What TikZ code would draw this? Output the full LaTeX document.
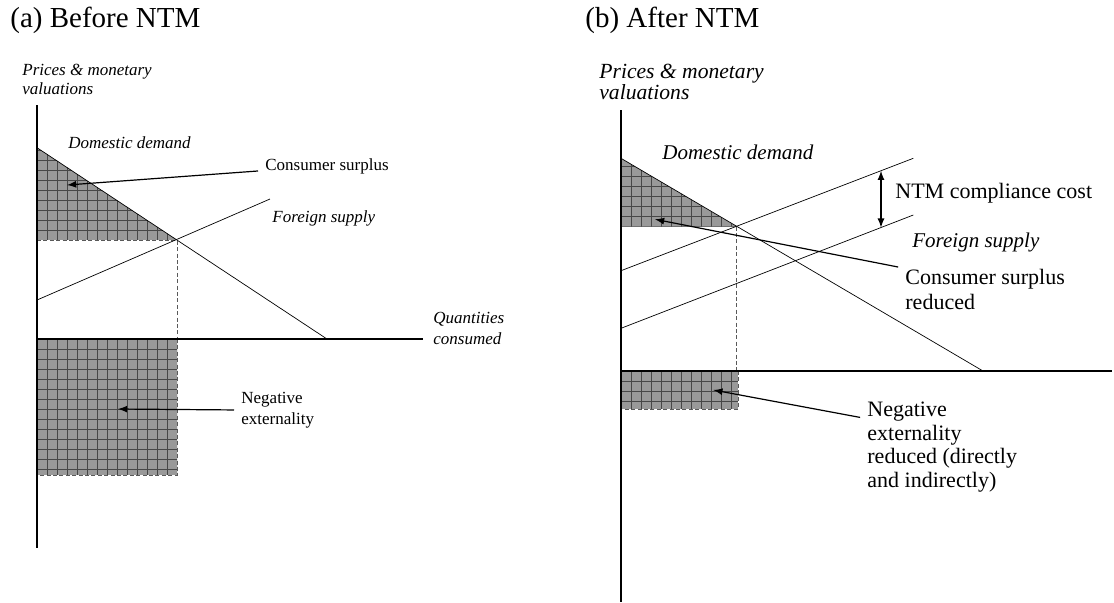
\documentclass[tikz,border=0pt]{standalone}
\usepackage{fontspec}
\setmainfont{Liberation Serif}
\usepackage{tikz}
\usetikzlibrary{positioning,arrows,calc}
\usepackage{xcolor}
\definecolor{hatchgray}{rgb}{0.6,0.6,0.6}
\definecolor{hatchdark}{rgb}{0.28,0.28,0.28}
\colorlet{guidegray}{black!65}
\tikzstyle{axisline} = [line width=0.65pt]
\tikzstyle{fnline} = [line width=0.35pt]
\tikzstyle{guide} = [draw=guidegray, line width=0.45pt, dash pattern=on 2pt off 1.2pt]
\tikzstyle{pointer} = [-latex, line width=0.6pt, shorten <=3.5pt]
\tikzstyle{gridline} = [draw=hatchdark, line width=0.35pt]
\tikzstyle{ttl} = [inner sep=0pt, anchor=base west, font=\fontsize{14.5}{17}\selectfont]
\tikzstyle{txta} = [inner sep=0pt, align=left, font=\fontsize{8.5}{10.5}\selectfont]
\tikzstyle{ita} = [inner sep=0pt, align=left, font=\fontsize{8.5}{10.5}\selectfont\itshape]
\tikzstyle{txtb} = [inner sep=0pt, align=left, font=\fontsize{11}{12.5}\selectfont]
\tikzstyle{itb} = [inner sep=0pt, align=left, font=\fontsize{10.5}{10.5}\selectfont\itshape]

\begin{document}
\begin{tikzpicture}[x=0.5pt, y=-0.5pt]
\useasboundingbox (0,0) rectangle (1114,602);

% (a) before
\node (tta) [ttl] at (10,27) {(a) Before NTM};
\node (pva) [ita, anchor=west, font=\fontsize{8.5}{9.5}\selectfont\itshape] at (22,79) {Prices \& monetary\\valuations};

\begin{scope}
\clip (37,147.7) -- (177,240) -- (37,240) -- cycle;
\fill[hatchgray] (37,140) rectangle (180,240);
\foreach \x in {47,57,...,177} \draw[gridline] (\x,140) -- (\x,240);
\foreach \y in {150,160,...,230} \draw[gridline] (37,\y) -- (180,\y);
\end{scope}
\begin{scope}
\clip (37,339) rectangle (177,475);
\fill[hatchgray] (37,339) rectangle (177,475);
\foreach \x in {47,57,...,177} \draw[gridline] (\x,339) -- (\x,475);
\foreach \y in {349,359,...,475} \draw[gridline] (37,\y) -- (177,\y);
\end{scope}

\coordinate (ea) at (177,240);
\draw[guide] (37,240) -- (ea) -- (177,339);
\draw[guide] (177,339) -- (177,475) -- (37,475);

\draw[axisline] (37,105) -- (37,548);
\draw[axisline] (37,339) -- (423,339);
\draw[fnline] (37,147.7) -- (327,339);
\draw[fnline] (37,300) -- (270,199);

\node (qca) [ita, anchor=west] at (433,328) {Quantities\\consumed};
\node (dda) [ita, anchor=base west] at (68,148) {Domestic demand};
\node (csa) [txta, anchor=base west] at (265,170) {Consumer surplus};
\node (fsa) [ita, anchor=base west] at (272,222) {Foreign supply};
\node (nxa) [txta, anchor=west] at (241,410) {Negative\\externality};

\coordinate (cstipa) at (67,185);
\coordinate (nxtipa) at (118,409);
\draw[pointer] (csa) -- (cstipa);
\draw[pointer] (nxa.west) -- (nxtipa);

% (b) after
\node (ttb) [ttl] at (585,27) {(b) After NTM};
\node (pvb) [itb, anchor=west, font=\fontsize{10.8}{10.5}\selectfont\itshape] at (599,82) {Prices \& monetary\\valuations};

\begin{scope}
\clip (621,158.3) -- (736.7,226.5) -- (621,226.5) -- cycle;
\fill[hatchgray] (621,150) rectangle (740,227);
\foreach \x in {631,641,...,741} \draw[gridline] (\x,150) -- (\x,227);
\foreach \y in {166,176,...,226} \draw[gridline] (621,\y) -- (740,\y);
\end{scope}
\begin{scope}
\clip (621,371) rectangle (738,409);
\fill[hatchgray] (621,371) rectangle (738,409);
\foreach \x in {631,641,...,741} \draw[gridline] (\x,371) -- (\x,409);
\foreach \y in {381,391,401} \draw[gridline] (621,\y) -- (738,\y);
\end{scope}

\coordinate (eb) at (736.7,226.5);
\draw[guide] (eb) -- (736.7,371);
\draw[guide] (738,371) -- (738,409) -- (621,409);

\draw[axisline] (621,110) -- (621,602);
\draw[axisline] (621,371) -- (1112,371);
\draw[fnline] (621,158.3) -- (983,371);
\draw[fnline] (621,270.7) -- (913.3,158.3);
\draw[fnline] (621,328.3) -- (913.3,215);

\coordinate (costtop) at (881,170.7);
\coordinate (costbot) at (881,227.6);
\draw[latex-latex, line width=0.6pt] (costtop) -- (costbot);

\node (ddb) [itb, anchor=base west] at (662,159) {Domestic demand};
\node (ntm) [txtb, anchor=base west] at (895,198) {NTM compliance cost};
\node (fsb) [itb, anchor=base west] at (912,247) {Foreign supply};
\node (csb) [txtb, anchor=west] at (905,289) {Consumer surplus\\reduced};
\node (nxb) [txtb, anchor=west, font=\fontsize{11}{11.75}\selectfont] at (867,447) {Negative\\externality\\reduced (directly\\and indirectly)};

\coordinate (cstipb) at (655,219.3);
\coordinate (nxtipb) at (713.3,390);
\draw[pointer] (csb.north west) -- (cstipb);
\draw[pointer] ([yshift=-8.5pt]nxb.north west) -- (nxtipb);
\end{tikzpicture}
\end{document}
